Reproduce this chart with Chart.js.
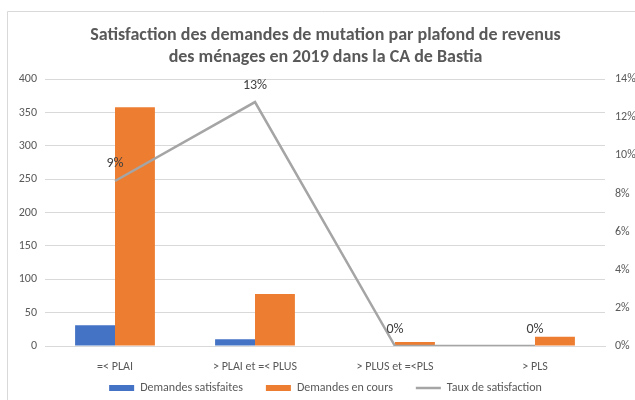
<!DOCTYPE html>
<html>
<head>
<meta charset="utf-8">
<script src="https://cdn.jsdelivr.net/npm/chart.js@4.4.1/dist/chart.umd.min.js"></script>
<style>
html,body{margin:0;padding:0;background:#fff;}
#wrap{position:relative;width:635px;height:400px;}
</style>
</head>
<body>
<div id="wrap"><canvas id="c" width="635" height="400"></canvas></div>
<script>
const categories = ["=< PLAI", "> PLAI et =< PLUS", "> PLUS et =<PLS", "> PLS"];
const satisfaites = [31, 10, 0, 0];
const enCours = [358, 78, 6, 14];
const tauxPct = [8.66, 12.8, 0, 0];
const leftTicks = [0, 50, 100, 150, 200, 250, 300, 350, 400];
const rightTicksPct = [0, 2, 4, 6, 8, 10, 12, 14];

const FONT = "Carlito, Lato, 'Liberation Sans', sans-serif";
const TXT = '#595959';

const framePlugin = {
  id: 'frame',
  beforeDraw(chart) {
    const ctx = chart.ctx;
    ctx.save();
    ctx.fillStyle = '#fff';
    ctx.fillRect(0, 0, chart.width, chart.height);
    ctx.strokeStyle = '#d9d9d9';
    ctx.lineWidth = 1;
    ctx.beginPath();
    ctx.moveTo(7.5, 400);
    ctx.lineTo(7.5, 11.5);
    ctx.lineTo(635, 11.5);
    ctx.stroke();
    ctx.restore();
  }
};

const labelPlugin = {
  id: 'pctLabels',
  afterDatasetsDraw(chart) {
    const meta = chart.getDatasetMeta(2);
    const ctx = chart.ctx;
    ctx.save();
    ctx.font = "14px " + FONT;
    ctx.fillStyle = '#404040';
    ctx.textAlign = 'center';
    ctx.textBaseline = 'middle';
    meta.data.forEach((pt, i) => {
      const v = chart.data.datasets[2].data[i];
      ctx.fillText(Math.round(v * 100) + '%', pt.x, pt.y - 17);
    });
    ctx.restore();
  }
};

new Chart(document.getElementById('c'), {
  type: 'bar',
  data: {
    labels: categories,
    datasets: [
      { type: 'bar', label: 'Demandes satisfaites', data: satisfaites, backgroundColor: '#4472c4', yAxisID: 'y', order: 2 },
      { type: 'bar', label: 'Demandes en cours', data: enCours, backgroundColor: '#ed7d31', yAxisID: 'y', order: 2 },
      { type: 'line', label: 'Taux de satisfaction', data: tauxPct.map(v => v / 100), borderColor: '#a5a5a5', backgroundColor: '#a5a5a5', borderWidth: 2.5, pointRadius: 0, tension: 0, yAxisID: 'y1', order: 1 }
    ]
  },
  options: {
    responsive: false,
    animation: false,
    devicePixelRatio: 1,
    categoryPercentage: 0.57,
    barPercentage: 1,
    layout: { padding: { left: 16, right: 0, top: 0, bottom: 0 } },
    plugins: {
      title: {
        display: true,
        text: ['Satisfaction des demandes de mutation par plafond de revenus', 'des ménages en 2019 dans la CA de Bastia'],
        color: TXT,
        font: { family: FONT, size: 18, weight: 'bold', lineHeight: 1.2 },
        padding: { top: 25, bottom: 11 }
      },
      legend: {
        position: 'bottom',
        maxHeight: 41,
        labels: {
          color: TXT,
          font: { family: FONT, size: 12 },
          usePointStyle: true,
          pointStyleWidth: 25,
          boxHeight: 6,
          padding: 23,
          sort: (a, b) => a.datasetIndex - b.datasetIndex,
          generateLabels(chart) {
            const items = Chart.defaults.plugins.legend.labels.generateLabels(chart);
            items.forEach(it => {
              if (it.datasetIndex === 2) { it.pointStyle = 'line'; it.lineWidth = 2.5; it.strokeStyle = '#a5a5a5'; }
              else { it.pointStyle = 'rect'; it.lineWidth = 0; }
            });
            return items;
          }
        }
      },
      tooltip: { enabled: false }
    },
    scales: {
      x: {
        grid: { display: false, drawTicks: false },
        border: { display: true, color: '#d9d9d9' },
        afterFit(scale) {
          scale.height = 13;
          scale._computeLabelArea = () => undefined;
        },
        ticks: { color: TXT, font: { family: FONT, size: 12 }, padding: 14, maxRotation: 0 }
      },
      y: {
        position: 'left',
        min: 0, max: 400,
        afterBuildTicks(scale) { scale.ticks = leftTicks.map(v => ({ value: v })); },
        afterFit(scale) { scale.width = 29; },
        grid: { color: '#d9d9d9', drawTicks: false },
        border: { display: false },
        ticks: { color: TXT, font: { family: FONT, size: 12 }, padding: 8 }
      },
      y1: {
        position: 'right',
        min: 0, max: 0.14,
        afterBuildTicks(scale) { scale.ticks = rightTicksPct.map(v => ({ value: v / 100 })); },
        afterFit(scale) { scale.width = 30; },
        grid: { display: false, drawTicks: false },
        border: { display: false },
        ticks: { color: TXT, font: { family: FONT, size: 12 }, padding: 10, callback: v => Math.round(v * 100) + '%' }
      }
    }
  },
  plugins: [framePlugin, labelPlugin]
});
</script>
</body>
</html>
